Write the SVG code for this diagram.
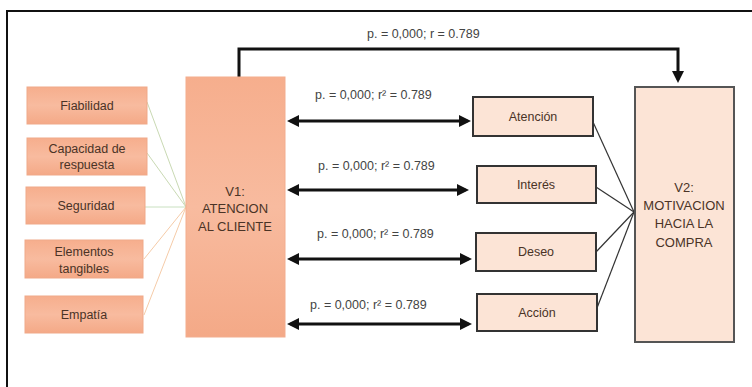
<svg xmlns="http://www.w3.org/2000/svg" width="752" height="387" viewBox="0 0 752 387">
<style>
.lbl{font-family:"Liberation Sans",Arial,sans-serif;font-size:12.5px;fill:#444;}
.bt{font-family:"Liberation Sans",Arial,sans-serif;font-size:12.5px;fill:#4a3326;text-anchor:middle;}
.big{font-family:"Liberation Sans",Arial,sans-serif;font-size:13px;fill:#4a3326;text-anchor:middle;}
.lb{fill:url(#sal);stroke:#f0a989;stroke-width:1;}
.mb{fill:#fce4d6;stroke:#333;stroke-width:2;}
.conn{stroke:#111;stroke-width:3;fill:none;}
.thin{stroke:#333;stroke-width:1.2;fill:none;}
.pale{stroke-width:1;fill:none;}
</style>
<defs>
<linearGradient id="sal" x1="0" y1="0" x2="0" y2="1">
<stop offset="0" stop-color="#f6ae8d"/>
<stop offset="0.5" stop-color="#f8bb9f"/>
<stop offset="1" stop-color="#f4a987"/>
</linearGradient>
<marker id="ah" viewBox="0 0 10 10" refX="7" refY="5" markerWidth="4" markerHeight="4" orient="auto-start-reverse" markerUnits="strokeWidth">
<path d="M0,0 L10,5 L0,10 z" fill="#111"/>
</marker>
</defs>
<rect x="0" y="0" width="752" height="387" fill="#fff"/>
<rect x="7" y="11" width="760" height="400" fill="none" stroke="#111" stroke-width="2"/>

<g id="connectors">
<polyline class="conn" points="239,77 239,49 678,49 678,79.4" marker-end="url(#ah)"/>
<line class="conn" x1="290.6" y1="121" x2="467.4" y2="121" marker-start="url(#ah)" marker-end="url(#ah)"/>
<line class="conn" x1="290.6" y1="190" x2="465.4" y2="190" marker-start="url(#ah)" marker-end="url(#ah)"/>
<line class="conn" x1="290.6" y1="259" x2="468.4" y2="259" marker-start="url(#ah)" marker-end="url(#ah)"/>
<line class="conn" x1="290.6" y1="324" x2="468.4" y2="324" marker-start="url(#ah)" marker-end="url(#ah)"/>
<line class="pale" stroke="#c9d9b3" x1="147" y1="102" x2="186" y2="207"/>
<line class="pale" stroke="#c9d9b3" x1="147" y1="153" x2="186" y2="207"/>
<line class="pale" stroke="#c9e0c0" x1="145" y1="207" x2="186" y2="207"/>
<line class="pale" stroke="#f5cba8" x1="144" y1="259" x2="186" y2="207"/>
<line class="pale" stroke="#f5cba8" x1="144" y1="315" x2="186" y2="207"/>
<line class="thin" x1="593" y1="122" x2="634" y2="212"/>
<line class="thin" x1="596" y1="187" x2="634" y2="212"/>
<line class="thin" x1="596" y1="252" x2="634" y2="212"/>
<line class="thin" x1="597" y1="308" x2="634" y2="212"/>
<text class="lbl" x="367" y="38">p. = 0,000; r = 0.789</text>
<text class="lbl" x="315" y="99">p. = 0,000; r² = 0.789</text>
<text class="lbl" x="318" y="170">p. = 0,000; r² = 0.789</text>
<text class="lbl" x="317" y="238">p. = 0,000; r² = 0.789</text>
<text class="lbl" x="310" y="309">p. = 0,000; r² = 0.789</text>
</g>

<g id="fiabilidad"><rect class="lb" x="27" y="87" width="120" height="37"/><text class="bt" x="87" y="110">Fiabilidad</text></g>
<g id="capacidad"><rect class="lb" x="27" y="138" width="120" height="37"/><text class="bt" x="87" y="153">Capacidad de</text><text class="bt" x="87" y="169">respuesta</text></g>
<g id="seguridad"><rect class="lb" x="26" y="187" width="119" height="37"/><text class="bt" x="86" y="210">Seguridad</text></g>
<g id="elementos"><rect class="lb" x="25" y="240" width="118" height="38"/><text class="bt" x="84" y="256">Elementos</text><text class="bt" x="84" y="273">tangibles</text></g>
<g id="empatia"><rect class="lb" x="25" y="296" width="118" height="37"/><text class="bt" x="84" y="319">Empatía</text></g>

<g id="v1"><rect x="186" y="77" width="99" height="260" fill="url(#sal)" stroke="#f3ad8e" stroke-width="1"/>
<text class="big" x="235" y="196">V1:</text><text class="big" x="235" y="213">ATENCION</text><text class="big" x="235" y="231">AL CLIENTE</text></g>

<g id="atencion"><rect class="mb" x="473" y="97" width="120" height="39"/><text class="bt" x="533" y="121">Atención</text></g>
<g id="interes"><rect class="mb" x="477" y="166" width="119" height="37"/><text class="bt" x="536" y="189">Interés</text></g>
<g id="deseo"><rect class="mb" x="476" y="233" width="120" height="38"/><text class="bt" x="536" y="256">Deseo</text></g>
<g id="accion"><rect class="mb" x="477" y="294" width="120" height="37"/><text class="bt" x="537" y="317">Acción</text></g>

<g id="v2"><rect x="635" y="87" width="99" height="255" fill="#fce4d6" stroke="#555" stroke-width="2"/>
<text class="big" x="684" y="192">V2:</text><text class="big" x="684" y="210">MOTIVACION</text><text class="big" x="684" y="228">HACIA LA</text><text class="big" x="684" y="247">COMPRA</text></g>
</svg>
